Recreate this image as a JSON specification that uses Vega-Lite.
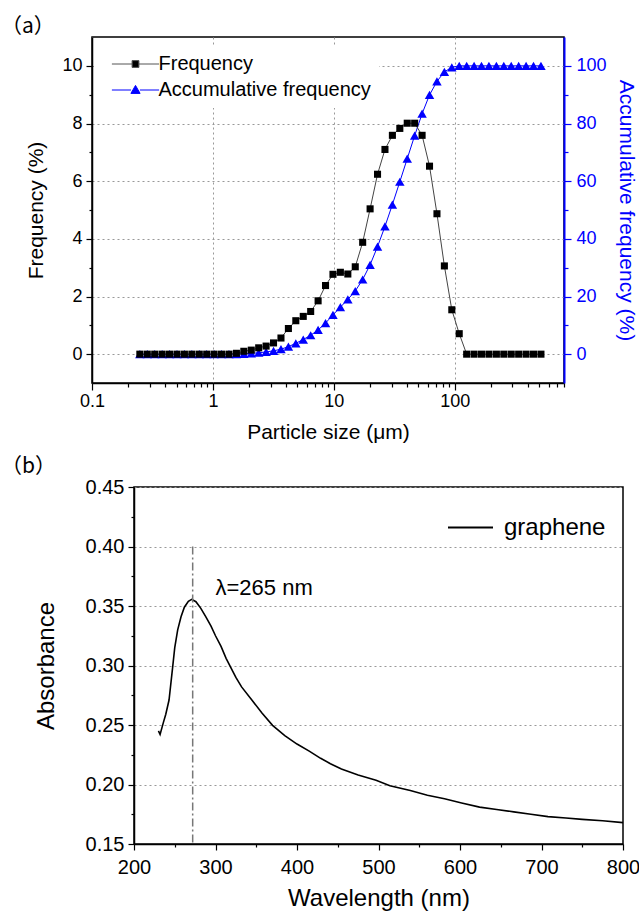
{
  "$schema": "https://vega.github.io/schema/vega-lite/v6.json",
  "padding": {"left": 0, "top": 15, "right": 0, "bottom": 0},
  "spacing": 12,
  "resolve": {"scale": {"color": "independent"}, "legend": {"color": "independent"}},
  "config": {
    "font": "Liberation Sans",
    "view": {"stroke": "black", "strokeWidth": 1.5},
    "axis": {
      "domainColor": "black", "domainWidth": 1.5, "tickColor": "black", "tickWidth": 1.2,
      "labelColor": "black", "titleColor": "black", "titleFontWeight": "normal",
      "labelFlush": false, "labelOverlap": false, "gridDash": [2, 3], "gridColor": "#999", "gridWidth": 1,
      "labelFont": "Liberation Sans", "titleFont": "Liberation Sans"
    }
  },
  "vconcat": [
    {
      "width": 472,
      "height": 346,
      "title": {"text": "（a）", "anchor": "start", "frame": "group", "dx": -91, "offset": 0, "font": "Noto Sans CJK SC", "fontSize": 21, "fontWeight": "normal", "color": "black"},
      "data": {"values": [
        {"size": 0.2487, "freq": 0, "cum": 0},
        {"size": 0.2865, "freq": 0, "cum": 0},
        {"size": 0.3301, "freq": 0, "cum": 0},
        {"size": 0.3802, "freq": 0, "cum": 0},
        {"size": 0.4379, "freq": 0, "cum": 0},
        {"size": 0.5045, "freq": 0, "cum": 0},
        {"size": 0.5811, "freq": 0, "cum": 0},
        {"size": 0.6694, "freq": 0, "cum": 0},
        {"size": 0.7711, "freq": 0, "cum": 0},
        {"size": 0.8882, "freq": 0, "cum": 0},
        {"size": 1.023, "freq": 0, "cum": 0},
        {"size": 1.178, "freq": 0, "cum": 0},
        {"size": 1.357, "freq": 0, "cum": 0},
        {"size": 1.564, "freq": 0.03, "cum": 0.03},
        {"size": 1.801, "freq": 0.10, "cum": 0.13},
        {"size": 2.075, "freq": 0.14, "cum": 0.27},
        {"size": 2.390, "freq": 0.22, "cum": 0.49},
        {"size": 2.753, "freq": 0.28, "cum": 0.77},
        {"size": 3.171, "freq": 0.39, "cum": 1.16},
        {"size": 3.653, "freq": 0.56, "cum": 1.72},
        {"size": 4.208, "freq": 0.89, "cum": 2.61},
        {"size": 4.847, "freq": 1.16, "cum": 3.77},
        {"size": 5.583, "freq": 1.31, "cum": 5.08},
        {"size": 6.431, "freq": 1.48, "cum": 6.56},
        {"size": 7.409, "freq": 1.85, "cum": 8.41},
        {"size": 8.535, "freq": 2.38, "cum": 10.79},
        {"size": 9.831, "freq": 2.77, "cum": 13.6},
        {"size": 11.32, "freq": 2.84, "cum": 16.3},
        {"size": 13.05, "freq": 2.78, "cum": 19.0},
        {"size": 15.03, "freq": 3.03, "cum": 21.9},
        {"size": 17.31, "freq": 3.88, "cum": 25.9},
        {"size": 19.94, "freq": 5.04, "cum": 31.0},
        {"size": 22.97, "freq": 6.24, "cum": 37.3},
        {"size": 26.46, "freq": 7.10, "cum": 44.3},
        {"size": 30.48, "freq": 7.59, "cum": 51.9},
        {"size": 35.11, "freq": 7.83, "cum": 59.8},
        {"size": 40.44, "freq": 8.01, "cum": 67.8},
        {"size": 46.58, "freq": 8.01, "cum": 75.8},
        {"size": 53.66, "freq": 7.59, "cum": 83.4},
        {"size": 61.81, "freq": 6.52, "cum": 89.9},
        {"size": 71.21, "freq": 4.87, "cum": 94.6},
        {"size": 82.02, "freq": 3.06, "cum": 97.9},
        {"size": 94.48, "freq": 1.54, "cum": 99.5},
        {"size": 108.8, "freq": 0.71, "cum": 100},
        {"size": 125.4, "freq": 0, "cum": 100},
        {"size": 144.4, "freq": 0, "cum": 100},
        {"size": 166.3, "freq": 0, "cum": 100},
        {"size": 191.6, "freq": 0, "cum": 100},
        {"size": 220.8, "freq": 0, "cum": 100},
        {"size": 254.3, "freq": 0, "cum": 100},
        {"size": 292.9, "freq": 0, "cum": 100},
        {"size": 337.4, "freq": 0, "cum": 100},
        {"size": 388.7, "freq": 0, "cum": 100},
        {"size": 447.7, "freq": 0, "cum": 100},
        {"size": 515.8, "freq": 0, "cum": 100}
      ]},
      "encoding": {
        "x": {
          "field": "size", "type": "quantitative",
          "scale": {"type": "log", "domain": [0.1, 800], "nice": false},
          "axis": {
            "title": "Particle size (μm)",
            "values": [0.1, 0.2, 0.3, 0.4, 0.5, 0.6, 0.7, 0.8, 0.9, 1, 2, 3, 4, 5, 6, 7, 8, 9, 10, 20, 30, 40, 50, 60, 70, 80, 90, 100, 200, 300, 400, 500, 600, 700, 800],
            "format": "~g",
            "labelExpr": "abs(log(datum.value)/LN10 - round(log(datum.value)/LN10)) < 0.001 ? datum.label : ''",
            "tickSize": {"condition": {"test": "abs(log(datum.value)/LN10 - round(log(datum.value)/LN10)) >= 0.001", "value": 4}, "value": 7},
            "grid": true,
            "gridOpacity": {"condition": {"test": "abs(log(datum.value)/LN10 - round(log(datum.value)/LN10)) < 0.001", "value": 1}, "value": 0},
            "labelFontSize": 18, "labelPadding": 2, "titleFontSize": 21, "titlePadding": 11
          }
        }
      },
      "layer": [
        {
          "encoding": {
            "y": {
              "field": "cum", "type": "quantitative",
              "scale": {"domain": [-10, 110], "nice": false, "zero": false},
              "axis": {
                "orient": "right",
                "title": "Accumulative frequency (%)",
                "values": [0, 10, 20, 30, 40, 50, 60, 70, 80, 90, 100],
                "labelExpr": "datum.value % 20 === 0 ? datum.label : ''",
                "tickSize": {"condition": {"test": "datum.value % 20 !== 0", "value": 4}, "value": 7},
                "grid": false,
                "domainColor": "blue", "domainWidth": 2, "tickColor": "blue", "labelColor": "blue", "titleColor": "blue",
                "labelFontSize": 18, "labelPadding": 5, "titleFontSize": 21, "titlePadding": 9
              }
            }
          },
          "layer": [
            {"mark": {"type": "line", "color": "blue", "strokeWidth": 1}, "encoding": {}},
            {
              "mark": {"type": "point", "shape": "triangle-up", "filled": true, "size": 90, "opacity": 1},
              "encoding": {
                "color": {
                  "datum": "Accumulative frequency", "type": "nominal",
                  "scale": {"range": ["blue"]},
                  "legend": {
                    "orient": "none", "legendX": 2, "legendY": 8, "padding": 8,
                    "title": " ", "titleFontSize": 20, "titlePadding": 7,
                    "fillColor": "white",
                    "labelFontSize": 20, "labelColor": "black", "labelLimit": 400, "labelOffset": 13,
                    "symbolType": "M-5.9,0H-1.1M1.1,0H5.9M0,-1.15L1.15,0.85H-1.15Z",
                    "symbolSize": 64, "symbolOffset": 23.5,
                    "symbolStrokeColor": "blue", "symbolFillColor": "blue", "symbolStrokeWidth": 1, "symbolOpacity": 1
                  }
                }
              }
            }
          ]
        },
        {
          "encoding": {
            "y": {
              "field": "freq", "type": "quantitative",
              "scale": {"domain": [-1, 11], "nice": false, "zero": false},
              "axis": {
                "orient": "left",
                "title": "Frequency (%)",
                "values": [0, 1, 2, 3, 4, 5, 6, 7, 8, 9, 10],
                "labelExpr": "datum.value % 2 === 0 ? datum.label : ''",
                "tickSize": {"condition": {"test": "datum.value % 2 !== 0", "value": 3}, "value": 6},
                "grid": true,
                "gridOpacity": {"condition": {"test": "datum.value % 2 === 0", "value": 1}, "value": 0},
                "labelFontSize": 18, "labelPadding": 4, "titleFontSize": 21, "titlePadding": 15
              }
            }
          },
          "layer": [
            {"mark": {"type": "line", "color": "#444", "strokeWidth": 1}, "encoding": {}},
            {
              "mark": {"type": "point", "shape": "square", "filled": true, "size": 50, "opacity": 1},
              "encoding": {
                "color": {
                  "datum": "Frequency", "type": "nominal",
                  "scale": {"range": ["black"]},
                  "legend": {
                    "orient": "none", "legendX": 2, "legendY": 9, "padding": 8,
                    "title": null,
                    "labelFontSize": 20, "labelColor": "black", "labelLimit": 400, "labelOffset": 13,
                    "symbolType": "M-5.9,0H-0.85M0.85,0H5.9M-0.85,-0.85H0.85V0.85H-0.85Z",
                    "symbolSize": 64, "symbolOffset": 23.5,
                    "symbolStrokeColor": "#555", "symbolFillColor": "black", "symbolStrokeWidth": 1, "symbolOpacity": 1
                  }
                }
              }
            }
          ]
        }
      ],
      "resolve": {"scale": {"y": "independent", "color": "independent"}, "legend": {"color": "independent"}}
    },
    {
      "bounds": "flush",
      "spacing": 0,
      "resolve": {"scale": {"color": "independent"}, "legend": {"color": "independent"}},
      "hconcat": [
        {
          "width": 42,
          "height": 357,
          "view": {"stroke": null},
          "data": {"values": [{"v": 0}]},
          "mark": {"type": "point", "opacity": 0}
        },
        {
          "width": 489,
          "height": 357,
          "title": {"text": "（b）", "anchor": "start", "frame": "group", "dx": -133, "offset": 0, "font": "Noto Sans CJK SC", "fontSize": 21, "fontWeight": "normal", "color": "black"},
          "encoding": {
            "x": {
              "field": "wl", "type": "quantitative",
              "scale": {"domain": [200, 800], "nice": false, "zero": false},
              "axis": {
                "title": "Wavelength (nm)",
                "values": [200, 250, 300, 350, 400, 450, 500, 550, 600, 650, 700, 750, 800],
                "labelExpr": "datum.value % 100 === 0 ? datum.label : ''",
                "tickSize": {"condition": {"test": "datum.value % 100 !== 0", "value": 3}, "value": 6},
                "grid": false,
                "labelFontSize": 20, "labelPadding": 7, "titleFontSize": 24, "titlePadding": 9
              }
            },
            "y": {
              "field": "abs", "type": "quantitative",
              "scale": {"domain": [0.15, 0.45], "nice": false, "zero": false},
              "axis": {
                "title": "Absorbance",
                "values": [0.15, 0.175, 0.2, 0.225, 0.25, 0.275, 0.3, 0.325, 0.35, 0.375, 0.4, 0.425, 0.45],
                "format": ".2f",
                "labelExpr": "abs(datum.value*20 - round(datum.value*20)) < 0.001 ? datum.label : ''",
                "tickSize": {"condition": {"test": "abs(datum.value*20 - round(datum.value*20)) >= 0.001", "value": 3}, "value": 6},
                "grid": true,
                "gridOpacity": {"condition": {"test": "abs(datum.value*20 - round(datum.value*20)) < 0.001", "value": 1}, "value": 0},
                "labelFontSize": 20, "labelPadding": 4, "titleFontSize": 24, "titlePadding": 27
              }
            }
          },
          "layer": [
            {
              "data": {"values": [
                {"wl": 230, "abs": 0.245},
                {"wl": 232, "abs": 0.242},
                {"wl": 236, "abs": 0.252},
                {"wl": 239, "abs": 0.259},
                {"wl": 243, "abs": 0.271},
                {"wl": 247.5, "abs": 0.299},
                {"wl": 250, "abs": 0.315},
                {"wl": 253.6, "abs": 0.330},
                {"wl": 257.7, "abs": 0.341},
                {"wl": 261.8, "abs": 0.349},
                {"wl": 266.7, "abs": 0.354},
                {"wl": 270.8, "abs": 0.3556},
                {"wl": 276, "abs": 0.3536},
                {"wl": 282, "abs": 0.348},
                {"wl": 288, "abs": 0.341},
                {"wl": 294.5, "abs": 0.333},
                {"wl": 300, "abs": 0.325},
                {"wl": 306.8, "abs": 0.316},
                {"wl": 313, "abs": 0.306},
                {"wl": 319, "abs": 0.298},
                {"wl": 325, "abs": 0.290},
                {"wl": 332, "abs": 0.282},
                {"wl": 344.6, "abs": 0.271},
                {"wl": 357, "abs": 0.260},
                {"wl": 370, "abs": 0.2497},
                {"wl": 385, "abs": 0.241},
                {"wl": 400, "abs": 0.234},
                {"wl": 415, "abs": 0.228},
                {"wl": 429, "abs": 0.222},
                {"wl": 441, "abs": 0.2175},
                {"wl": 454.5, "abs": 0.213},
                {"wl": 475, "abs": 0.208},
                {"wl": 497, "abs": 0.2036},
                {"wl": 514, "abs": 0.199},
                {"wl": 539, "abs": 0.195},
                {"wl": 560, "abs": 0.191},
                {"wl": 581, "abs": 0.188},
                {"wl": 602, "abs": 0.1845},
                {"wl": 624, "abs": 0.181},
                {"wl": 645, "abs": 0.179},
                {"wl": 666, "abs": 0.177},
                {"wl": 687, "abs": 0.175},
                {"wl": 708, "abs": 0.173},
                {"wl": 730, "abs": 0.1718},
                {"wl": 750, "abs": 0.1707},
                {"wl": 775, "abs": 0.1695},
                {"wl": 800, "abs": 0.168}
              ]},
              "mark": {"type": "line", "strokeWidth": 1.6},
              "encoding": {
                "color": {
                  "datum": "graphene", "type": "nominal",
                  "scale": {"domain": ["graphene"], "range": ["black"]},
                  "legend": {
                    "orient": "top-right", "offset": 17, "title": null, "labelFontSize": 24, "labelColor": "black",
                    "symbolType": "stroke", "symbolSize": 2025, "symbolStrokeWidth": 2, "labelOffset": 10
                  }
                }
              }
            },
            {
              "data": {"values": [{"wl": 272, "top": 0.40, "bottom": 0.15}]},
              "mark": {"type": "rule", "color": "#777", "strokeWidth": 1.5, "strokeDash": [8, 3, 2, 3]},
              "encoding": {
                "x": {"field": "wl", "type": "quantitative"},
                "y": {"field": "top", "type": "quantitative"},
                "y2": {"field": "bottom"}
              }
            },
            {
              "data": {"values": [{"wl": 300, "abs": 0.365, "label": "λ=265 nm"}]},
              "mark": {"type": "text", "align": "left", "baseline": "middle", "fontSize": 22, "color": "black", "font": "Liberation Sans"},
              "encoding": {
                "text": {"field": "label", "type": "nominal"}
              }
            }
          ]
        }
      ]
    }
  ]
}
